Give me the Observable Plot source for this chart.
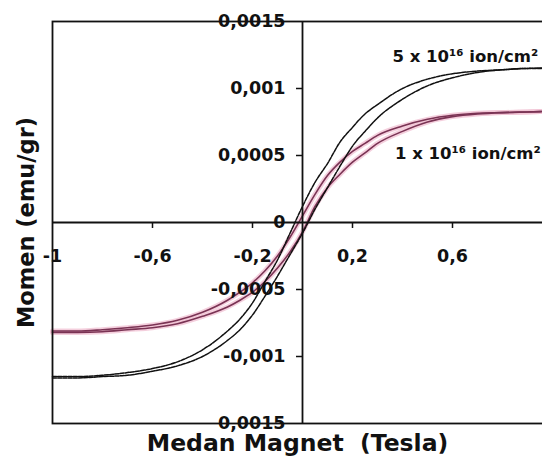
<!DOCTYPE html>
<html>
<head>
<meta charset="utf-8">
<script src="https://cdn.jsdelivr.net/npm/d3@7"></script>
<script src="https://cdn.jsdelivr.net/npm/@observablehq/plot@0.6"></script>
<style>
  html, body { margin: 0; padding: 0; background: #fff; }
  #chart svg { display: block; }
</style>
</head>
<body>
<div id="chart"></div>
<script>
// Applied magnetic field (Tesla)
const field = [-1, -0.9, -0.8, -0.7, -0.6, -0.5, -0.4, -0.3, -0.25, -0.2, -0.15, -0.1, -0.05, 0,
               0.05, 0.1, 0.15, 0.2, 0.25, 0.3, 0.4, 0.5, 0.6, 0.7, 0.8, 0.9, 1];

// 5 x 10^16 ion/cm2 — magnetic moment (emu/gr)
const m5Descending = [-0.00115, -0.00115, -0.00114, -0.00112, -0.00109, -0.00104, -0.00095, -0.00081, -0.00072, -0.00060, -0.00044, -0.00028, -0.00008, 0.00012,
                      0.00030, 0.00044, 0.00060, 0.00071, 0.00081, 0.00088, 0.00100, 0.00107, 0.00111, 0.00113, 0.00114, 0.00115, 0.001155];
const m5Ascending  = [-0.00116, -0.00116, -0.00115, -0.00114, -0.00111, -0.00107, -0.00100, -0.00088, -0.00080, -0.00069, -0.00055, -0.00040, -0.00024, -0.00008,
                      0.00010, 0.00026, 0.00042, 0.00057, 0.00068, 0.00078, 0.00092, 0.00102, 0.00108, 0.00112, 0.00114, 0.00115, 0.00115];

// 1 x 10^16 ion/cm2 — magnetic moment (emu/gr)
const m1Descending = [-0.00081, -0.00081, -0.00080, -0.000785, -0.000765, -0.00073, -0.00067, -0.00058, -0.00052, -0.00045, -0.00036, -0.00025, -0.00011, 0.00005,
                      0.00021, 0.00035, 0.00045, 0.00053, 0.00059, 0.00065, 0.00072, 0.00077, 0.00080, 0.000815, 0.00082, 0.000825, 0.00083];
const m1Ascending  = [-0.00082, -0.00082, -0.000815, -0.00080, -0.000785, -0.000755, -0.00070, -0.00063, -0.00058, -0.00052, -0.00044, -0.00034, -0.00022, -0.00007,
                      0.00012, 0.00026, 0.00036, 0.00045, 0.00052, 0.00059, 0.00068, 0.00075, 0.00079, 0.00081, 0.00082, 0.000825, 0.00083];

// Axis ticks and labels
const xTicks = [-1, -0.6, -0.2, 0.2, 0.6];
const xTickLabels = ["-1", "-0,6", "-0,2", "0,2", "0,6"];
const yTicks = [-0.0015, -0.001, -0.0005, 0, 0.0005, 0.001, 0.0015];
const yTickLabels = ["0,0015", "-0,001", "-0,0005", "0", "0,0005", "0,001", "0,0015"];

// Series labels
const seriesNames = ["5 x 10¹⁶ ion/cm²", "1 x 10¹⁶ ion/cm²"];
const seriesLabelH = [0.36, 0.37];
const seriesLabelM = [0.00124, 0.00051];

const xTitle = "Medan Magnet  (Tesla)";
const yTitle = "Momen (emu/gr)";

// Build tables
const rows = [];
function addBranch(series, branch, values) {
  values.forEach((m, i) => rows.push({series, branch, h: field[i], m}));
}
addBranch("5", "desc", m5Descending);
addBranch("5", "asc", m5Ascending);
addBranch("1", "desc", m1Descending);
addBranch("1", "asc", m1Ascending);
const rows5 = rows.filter(d => d.series === "5");
const rows1 = rows.filter(d => d.series === "1");

const xTickRows = xTicks.map((v, i) => ({v, label: xTickLabels[i]}));
const yTickRows = yTicks.map((v, i) => ({v, label: yTickLabels[i]}));
const labelRows = seriesNames.map((t, i) => ({t, h: seriesLabelH[i], m: seriesLabelM[i]}));

const ink = "#111";
const font = "DejaVu Sans";

const chart = Plot.plot({
  width: 542,
  height: 463,
  marginLeft: 52,
  marginRight: -10,
  marginTop: 21,
  marginBottom: 40,
  x: {domain: [-1, 1], axis: null},
  y: {domain: [-0.0015, 0.0015], axis: null},
  style: {fontFamily: font, background: "#fff", color: ink},
  marks: [
    // curves: 1 x 10^16 (pink halo + maroon line)
    Plot.line(rows1, {x: "h", y: "m", z: "branch", curve: "monotone-x", stroke: "#f1c3d5", strokeWidth: 5, strokeOpacity: 0.8}),
    Plot.line(rows1, {x: "h", y: "m", z: "branch", curve: "monotone-x", stroke: "#7a3354", strokeWidth: 1.6}),
    // curves: 5 x 10^16 (black)
    Plot.line(rows5, {x: "h", y: "m", z: "branch", curve: "monotone-x", stroke: ink, strokeWidth: 1.5, strokeDasharray: "4,1.2"}),
    // frame and central axes
    Plot.frame({stroke: ink, strokeWidth: 1.8}),
    Plot.ruleX([0], {stroke: ink, strokeWidth: 1.8}),
    Plot.ruleY([0], {stroke: ink, strokeWidth: 1.8}),
    // tick marks
    Plot.ruleX(xTicks.filter(v => v !== 0 && Math.abs(v) < 1), {x: d => d, y1: 0, y2: 0, insetTop: 0, insetBottom: -6, stroke: ink, strokeWidth: 1.5}),
    Plot.ruleY(yTicks.filter(v => v !== 0 && Math.abs(v) < 0.0015), {y: d => d, x1: 0, x2: 0, insetLeft: -6, insetRight: 0, stroke: ink, strokeWidth: 1.5}),
    // tick labels
    Plot.text(xTickRows, {x: "v", y: 0, text: "label", dy: 34, fontSize: 17.5, fontWeight: "bold", fill: ink}),
    Plot.text(yTickRows, {x: 0, y: "v", text: "label", dx: -17, textAnchor: "end", fontSize: 17.5, fontWeight: "bold", fill: ink}),
    // series labels
    Plot.text(labelRows, {x: "h", y: "m", text: "t", textAnchor: "start", fontSize: 16.5, fontWeight: "bold", fill: ink}),
    // axis titles
    Plot.text([xTitle], {frameAnchor: "bottom", dx: -5, dy: 27, text: d => d, fontSize: 23.5, fontWeight: "bold", fill: ink}),
    Plot.text([yTitle], {frameAnchor: "left", textAnchor: "middle", rotate: -90, dx: -26, text: d => d, fontSize: 22.5, fontWeight: "bold", fill: ink})
  ]
});

document.getElementById("chart").appendChild(chart);
</script>
</body>
</html>
